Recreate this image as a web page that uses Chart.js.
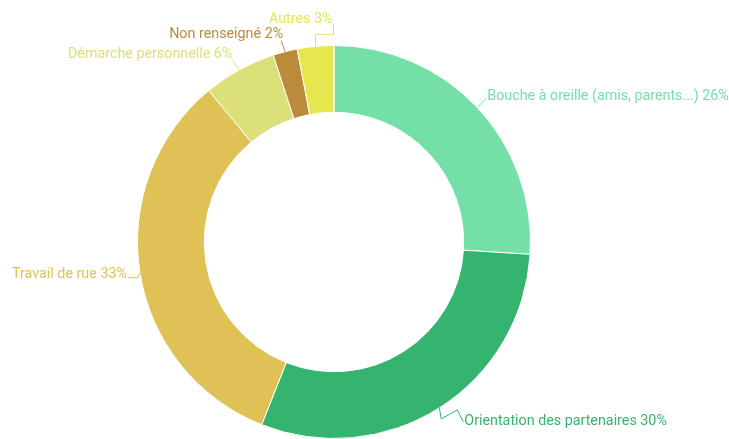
<!DOCTYPE html>
<html>
<head>
<meta charset="utf-8">
<script src="https://cdn.jsdelivr.net/npm/chart.js@4/dist/chart.umd.min.js"></script>
<style>
  html, body { margin: 0; padding: 0; background: #fff; }
  #wrap { width: 729px; height: 439px; position: relative; }
</style>
</head>
<body>
<div id="wrap"><canvas id="chart"></canvas></div>
<script>
const categories = ['Bouche à oreille (amis, parents...)', 'Orientation des partenaires', 'Travail de rue', 'Démarche personnelle', 'Non renseigné', 'Autres'];
const shares = [26, 30, 33, 6, 2, 3];
const colors = ['#74e0a7', '#35b46f', '#e0c155', '#dbe079', '#bb8b3a', '#e6e74f'];

// leader line bends (relative to the arc's outer middle point) and label side
const leaders = [
    { pts: [[9, -9]], align: 'left', tx: 10, ty: -11 },
    { pts: [[2, 11], [18, 2], [24, 14]], align: 'left', tx: 25, ty: 14 },
    { pts: [[-2, 5], [-12, 5]], align: 'right', tx: -13, ty: 2 },
    { pts: [[-7, -10]], align: 'right', tx: -7, ty: -15 },
    { pts: [[-4, -11]], align: 'right', tx: -2, ty: -17 },
    { pts: [[0, -12], [18, -12], [18, -23]], align: 'right', tx: 17, ty: -27 }
];

const outsideLabels = {
    id: 'outsideLabels',
    afterDatasetsDraw(chart) {
        const ctx = chart.ctx;
        const meta = chart.getDatasetMeta(0);
        meta.data.forEach((arc, i) => {
            const { x, y, startAngle, endAngle, outerRadius } = arc.getProps(['x', 'y', 'startAngle', 'endAngle', 'outerRadius'], true);
            const mid = (startAngle + endAngle) / 2;
            const px = x + Math.cos(mid) * outerRadius;
            const py = y + Math.sin(mid) * outerRadius;
            const l = leaders[i];
            ctx.save();
            ctx.strokeStyle = colors[i];
            ctx.lineWidth = 1;
            ctx.beginPath();
            ctx.moveTo(px, py);
            l.pts.forEach(p => ctx.lineTo(px + p[0], py + p[1]));
            ctx.stroke();
            ctx.fillStyle = colors[i];
            ctx.font = '14.3px Roboto';
            ctx.textAlign = l.align;
            ctx.textBaseline = 'middle';
            ctx.fillText(categories[i] + ' ' + shares[i] + '%', px + l.tx, py + l.ty);
            ctx.restore();
        });
    }
};

new Chart(document.getElementById('chart'), {
    type: 'doughnut',
    data: {
        labels: categories,
        datasets: [{
            data: shares,
            backgroundColor: colors,
            borderColor: '#ffffff',
            borderWidth: 1,
            hoverOffset: 0
        }]
    },
    options: {
        responsive: true,
        maintainAspectRatio: false,
        animation: false,
        cutout: '66%',
        layout: { padding: { top: 45, bottom: 0, left: 100, right: 161 } },
        plugins: {
            legend: { display: false },
            tooltip: { enabled: false }
        }
    },
    plugins: [outsideLabels]
});
</script>
</body>
</html>
